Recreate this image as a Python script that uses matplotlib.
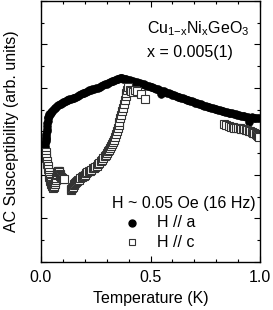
import numpy as np
import matplotlib
matplotlib.use("Agg")
import matplotlib.pyplot as plt
from matplotlib.ticker import MultipleLocator, NullFormatter

plt.rcParams['font.family'] = ['Liberation Sans', 'DejaVu Sans']
plt.rcParams['mathtext.fontset'] = 'custom'
plt.rcParams['mathtext.rm'] = 'Liberation Sans'
plt.rcParams['mathtext.it'] = 'Liberation Sans'

# H // a (filled circles), temperature in K, susceptibility in arb. units
T_a = [0.017, 0.018, 0.019, 0.020, 0.021, 0.022, 0.023, 0.024, 0.025, 0.026,
       0.027, 0.028, 0.029, 0.030, 0.032, 0.034, 0.036, 0.038, 0.041, 0.044,
       0.047, 0.050, 0.054, 0.058, 0.062, 0.066, 0.070, 0.075, 0.080, 0.085,
       0.090, 0.095, 0.100, 0.106, 0.112, 0.117, 0.123, 0.130, 0.137, 0.146,
       0.153, 0.160, 0.168, 0.175, 0.183, 0.190, 0.198, 0.205, 0.213, 0.220,
       0.228, 0.235, 0.244, 0.253, 0.260, 0.268, 0.276, 0.285, 0.292, 0.300,
       0.308, 0.315, 0.322, 0.330, 0.338, 0.345, 0.352, 0.360, 0.365, 0.370,
       0.376, 0.383, 0.390, 0.398, 0.405, 0.413, 0.420, 0.428, 0.436, 0.444,
       0.452, 0.460, 0.468, 0.476, 0.484, 0.492, 0.500, 0.508, 0.516, 0.524,
       0.532, 0.540, 0.546, 0.552, 0.560, 0.568, 0.576, 0.584, 0.592, 0.600,
       0.608, 0.616, 0.624, 0.632, 0.640, 0.648, 0.656, 0.664, 0.672, 0.680,
       0.688, 0.696, 0.704, 0.712, 0.720, 0.728, 0.736, 0.744, 0.752, 0.760,
       0.768, 0.776, 0.784, 0.792, 0.800, 0.808, 0.816, 0.824, 0.832, 0.840,
       0.848, 0.856, 0.864, 0.872, 0.880, 0.888, 0.896, 0.904, 0.912, 0.920,
       0.928, 0.936, 0.944, 0.950, 0.955, 0.962, 0.970, 0.978, 0.986, 0.994]
X_a = [5.15, 5.25, 5.35, 5.45, 5.55, 5.65, 5.72, 5.80, 5.90, 6.00,
       6.12, 6.25, 6.38, 6.50, 6.60, 6.66, 6.72, 6.78, 6.82, 6.87,
       6.91, 6.95, 6.99, 7.03, 7.06, 7.09, 7.12, 7.16, 7.20, 7.24,
       7.28, 7.31, 7.34, 7.37, 7.40, 7.43, 7.45, 7.48, 7.51, 7.55,
       7.52, 7.60, 7.64, 7.68, 7.72, 7.75, 7.79, 7.82, 7.86, 7.89,
       7.92, 7.95, 7.97, 7.99, 8.02, 8.05, 8.09, 8.13, 8.17, 8.20,
       8.24, 8.27, 8.30, 8.34, 8.37, 8.40, 8.43, 8.45, 8.46, 8.45,
       8.43, 8.42, 8.40, 8.38, 8.36, 8.33, 8.31, 8.29, 8.26, 8.24,
       8.21, 8.19, 8.16, 8.14, 8.11, 8.08, 8.05, 8.03, 8.00, 7.97,
       7.94, 7.91, 7.72, 7.86, 7.84, 7.81, 7.78, 7.75, 7.72, 7.69,
       7.66, 7.63, 7.60, 7.58, 7.55, 7.52, 7.49, 7.46, 7.43, 7.41,
       7.38, 7.35, 7.32, 7.30, 7.27, 7.24, 7.22, 7.19, 7.17, 7.14,
       7.12, 7.09, 7.07, 7.04, 7.02, 7.00, 6.97, 6.95, 6.93, 6.91,
       6.89, 6.87, 6.85, 6.83, 6.81, 6.79, 6.77, 6.75, 6.73, 6.72,
       6.70, 6.68, 6.67, 6.45, 6.62, 6.66, 6.64, 6.63, 6.62, 6.61]

# H // c (open squares)
T_c = [0.021, 0.023, 0.025, 0.027, 0.029, 0.031, 0.033, 0.035, 0.037, 0.039,
       0.041, 0.043, 0.045, 0.047, 0.049, 0.051, 0.053, 0.055, 0.057, 0.059,
       0.061, 0.063, 0.065, 0.067, 0.069, 0.071, 0.073, 0.075, 0.077, 0.079,
       0.081, 0.083, 0.085, 0.087, 0.089, 0.091, 0.094, 0.097, 0.100, 0.103,
       0.136, 0.139, 0.142, 0.145, 0.149, 0.153, 0.157, 0.161, 0.165, 0.170,
       0.175, 0.180, 0.185, 0.190, 0.195, 0.200, 0.206, 0.212, 0.218, 0.224,
       0.230, 0.236, 0.242, 0.248, 0.254, 0.260, 0.266, 0.272, 0.278, 0.284,
       0.290, 0.295, 0.300, 0.305, 0.310, 0.315, 0.320, 0.325, 0.330, 0.334,
       0.338, 0.342, 0.346, 0.350, 0.354, 0.358, 0.362, 0.366, 0.370, 0.374,
       0.378, 0.382, 0.386, 0.390, 0.394, 0.398, 0.405, 0.413, 0.420, 0.430,
       0.440, 0.455, 0.473,
       0.836, 0.846, 0.856, 0.866, 0.874, 0.882, 0.890, 0.898, 0.906, 0.914,
       0.920, 0.927, 0.934, 0.941, 0.948, 0.955, 0.961, 0.967, 0.973, 0.979,
       0.985, 0.991, 0.996]
X_c = [5.05, 4.90, 4.78, 4.65, 4.52, 4.40, 4.28, 4.15, 4.02, 3.92,
       3.82, 3.74, 3.66, 3.60, 3.55, 3.50, 3.46, 3.43, 3.42, 3.45,
       3.50, 3.58, 3.68, 3.78, 3.88, 3.98, 4.06, 4.12, 4.16, 4.18,
       4.16, 4.12, 4.06, 4.00, 3.95, 3.91, 3.88, 3.85, 3.83, 3.80,
       3.30, 3.35, 3.40, 3.46, 3.52, 3.58, 3.63, 3.67, 3.71, 3.75,
       3.79, 3.84, 3.89, 3.93, 3.97, 4.02, 4.07, 4.12, 4.16, 4.20,
       4.25, 4.30, 4.34, 4.38, 4.43, 4.49, 4.55, 4.62, 4.70, 4.78,
       4.86, 4.93, 5.00, 5.08, 5.16, 5.24, 5.32, 5.40, 5.50, 5.62,
       5.74, 5.88, 6.02, 6.16, 6.30, 6.45, 6.60, 6.76, 6.92, 7.10,
       7.28, 7.45, 7.62, 7.78, 7.92, 8.03, 7.92, 7.85, 7.80, 7.90,
       7.88, 7.70, 7.50,
       6.32, 6.28, 6.25, 6.22, 6.20, 6.18, 6.17, 6.16, 6.15, 6.13,
       6.12, 6.10, 6.08, 6.06, 6.03, 6.00, 5.97, 5.94, 5.92, 5.88,
       5.84, 5.80, 5.76]

fig = plt.figure(figsize=(2.73, 3.10), dpi=100)
ax = fig.add_axes([0.150, 0.155, 0.803, 0.842])

ax.plot(T_a, X_a, 'o', color='black', markersize=5.5, markeredgewidth=0.5)
ax.plot(T_c, X_c, 's', markerfacecolor='white', markeredgecolor='#333333',
        markersize=5.5, markeredgewidth=0.8)

ax.set_xlim(0, 1.0)
ax.set_ylim(0, 12)
ax.xaxis.set_major_locator(MultipleLocator(0.5))
ax.xaxis.set_minor_locator(MultipleLocator(0.1))
ax.yaxis.set_major_locator(MultipleLocator(2))
ax.yaxis.set_minor_locator(MultipleLocator(1))
ax.yaxis.set_major_formatter(NullFormatter())
ax.set_xticks([0.0, 0.5, 1.0])
ax.set_xticklabels(['0.0', '0.5', '1.0'])
ax.tick_params(which='both', direction='in', top=True, right=True, labelsize=11.5, pad=6)
ax.tick_params(which='major', length=4, width=0.8)
ax.tick_params(which='minor', length=2.5, width=0.8)
for s in ax.spines.values():
    s.set_linewidth(1.0)

ax.set_xlabel('Temperature (K)', fontsize=11.5, labelpad=4)
ax.set_ylabel('AC Susceptibility (arb. units)', fontsize=11.5, labelpad=10)

ax.text(0.485, 0.875, r'Cu$_{1\mathrm{-}x}$Ni$_x$GeO$_3$', transform=ax.transAxes, fontsize=11.5)
ax.text(0.485, 0.785, 'x = 0.005(1)', transform=ax.transAxes, fontsize=11.5)
ax.text(0.325, 0.225, 'H ~ 0.05 Oe (16 Hz)', transform=ax.transAxes, fontsize=11.5, va='center')
ax.plot([0.415], [0.15], 'o', color='black', markersize=5, transform=ax.transAxes)
ax.text(0.53, 0.15, 'H // a', transform=ax.transAxes, fontsize=11.5, va='center')
ax.plot([0.415], [0.075], 's', markerfacecolor='white', markeredgecolor='#333333',
        markersize=4.5, markeredgewidth=0.8, transform=ax.transAxes)
ax.text(0.53, 0.075, 'H // c', transform=ax.transAxes, fontsize=11.5, va='center')

fig.savefig('out.png', dpi=100)
